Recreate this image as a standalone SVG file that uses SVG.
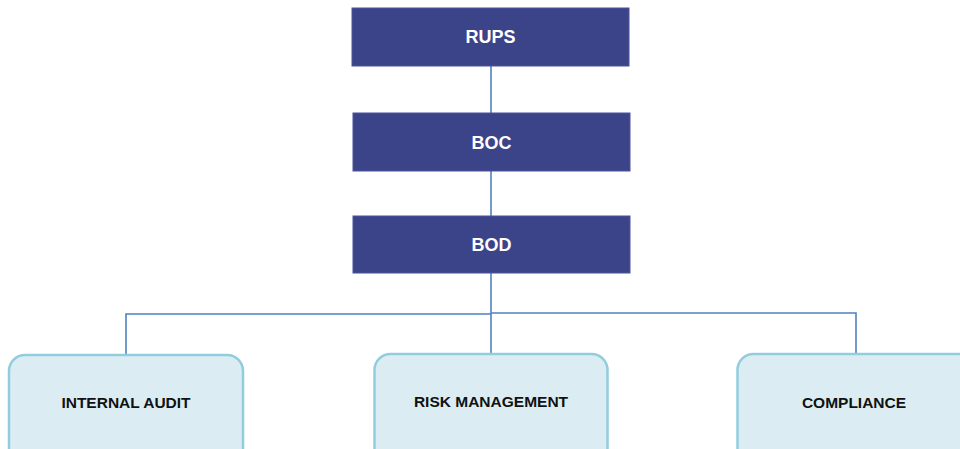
<svg xmlns="http://www.w3.org/2000/svg" width="960" height="449" viewBox="0 0 960 449">
<style>
.top{fill:#3c4489;stroke:#4b529a;stroke-width:1}
.sub{fill:#dbedf3;stroke:#92cddd;stroke-width:2.5}
.tl{font-family:"Liberation Sans",Arial,sans-serif;font-weight:bold;font-size:18px;fill:#ffffff;text-anchor:middle}
.sl{font-family:"Liberation Sans",Arial,sans-serif;font-weight:bold;font-size:15.5px;fill:#111111;text-anchor:middle}
.c{fill:none;stroke:#4f81bd;stroke-width:1.6}
</style>
<rect width="960" height="449" fill="#ffffff"/>
<g id="connectors">
<line class="c" x1="491" y1="66" x2="491" y2="113"/>
<line class="c" x1="491" y1="171" x2="491" y2="216"/>
<line class="c" x1="491" y1="273" x2="491" y2="354"/>
<polyline class="c" points="126,355 126,314 491,314"/>
<polyline class="c" points="491,313 856,313 856,354"/>
</g>
<g id="rups">
<rect class="top" x="352" y="8" width="277" height="58"/>
<text class="tl" x="490.5" y="43">RUPS</text>
</g>
<g id="boc">
<rect class="top" x="353" y="113" width="277" height="58"/>
<text class="tl" x="491.5" y="148.5">BOC</text>
</g>
<g id="bod">
<rect class="top" x="353" y="216" width="277" height="57"/>
<text class="tl" x="491.5" y="251">BOD</text>
</g>
<g id="internal-audit">
<rect class="sub" x="9" y="355" width="234" height="110" rx="16"/>
<text class="sl" x="126" y="408">INTERNAL AUDIT</text>
</g>
<g id="risk-management">
<rect class="sub" x="374.5" y="354" width="233" height="110" rx="16"/>
<text class="sl" x="491" y="406.5">RISK MANAGEMENT</text>
</g>
<g id="compliance">
<rect class="sub" x="737.5" y="354" width="240" height="110" rx="16"/>
<text class="sl" x="854" y="408">COMPLIANCE</text>
</g>
</svg>
